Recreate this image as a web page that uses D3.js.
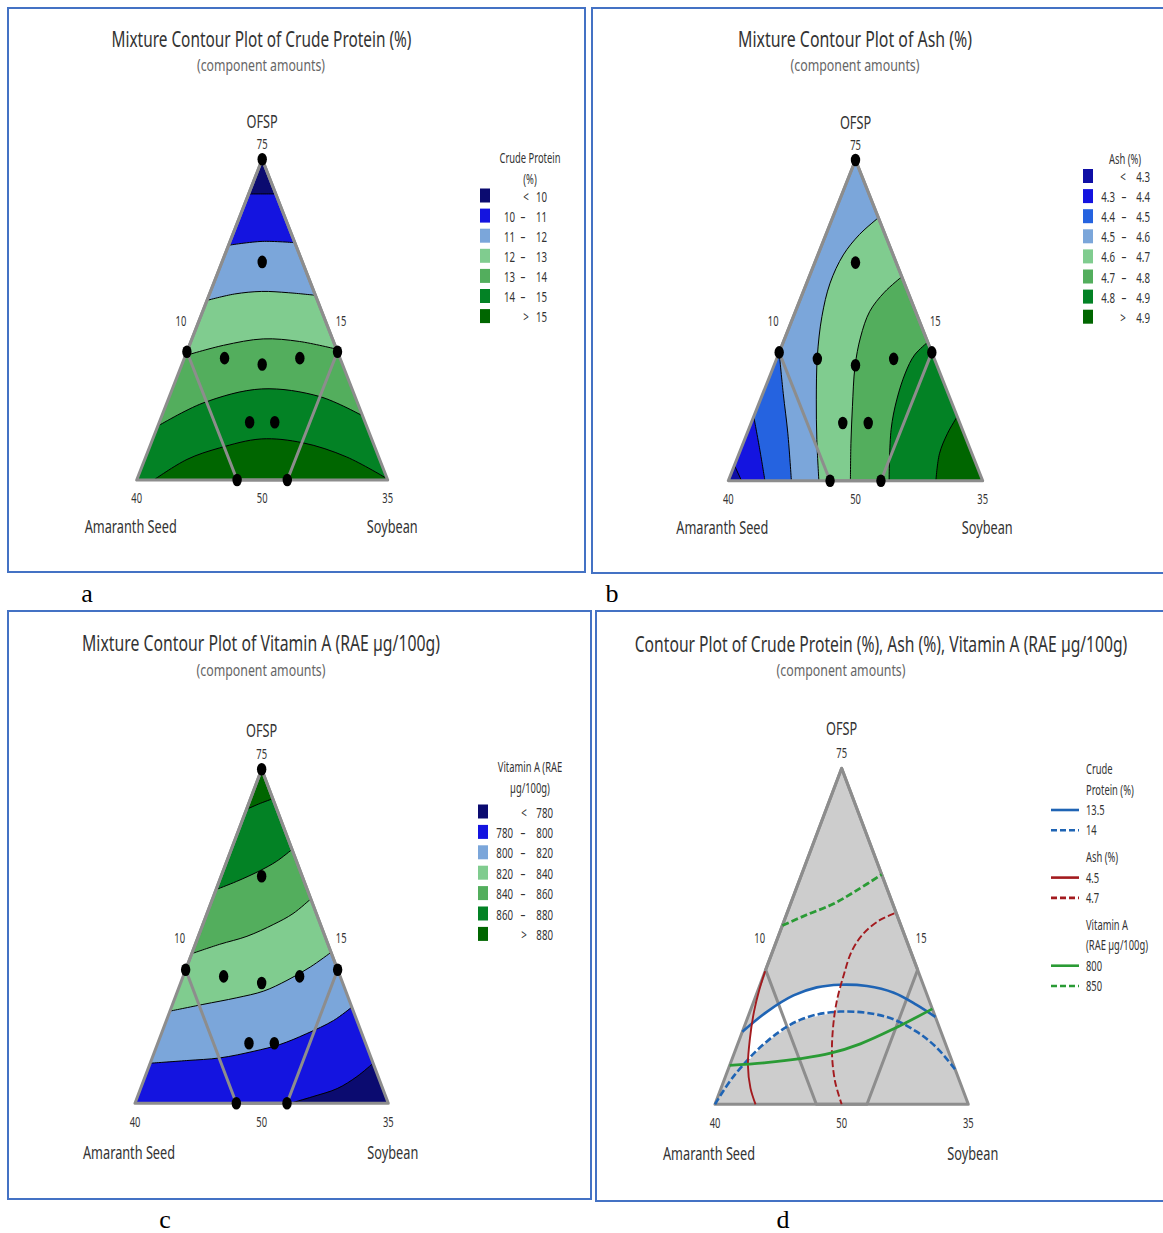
<!DOCTYPE html>
<html>
<head>
<meta charset="utf-8">
<script src="https://cdn.jsdelivr.net/npm/d3@7"></script>
<style>
  body { margin: 0; background: #fff; }
  svg { display: block; }
</style>
</head>
<body>
<svg id="fig" width="1163" height="1233"></svg>
<script>
// ---------------- data (component amounts: [OFSP, Amaranth Seed, Soybean]) ----------------
const components = ["OFSP", "Amaranth Seed", "Soybean"];
const lowerAmounts = [50, 15, 10];
const upperAmounts = [75, 40, 35];

// constrained design region and the design runs
const regionVertices = [[75, 15, 10], [60, 30, 10], [50, 30, 20], [50, 25, 25], [60, 15, 25]];
const designPoints = [
  [75, 15, 10], [60, 30, 10], [50, 30, 20], [50, 25, 25], [60, 15, 25],
  [59, 23, 18],
  [67, 19, 14], [59.5, 26.5, 14], [54.5, 26.5, 19], [54.5, 24, 21.5], [59.5, 19, 21.5]
];

// Crude Protein (%) contour lines
const proteinLevels = [10, 11, 12, 13, 14, 15];
const proteinContours = [
  [[72.3, 17.7, 10], [72.3, 16.35, 11.35], [72.3, 15, 12.7]],
  [[68.3, 21.7, 10], [68.6, 18.2, 13.2], [68.5, 15, 16.5]],
  [[64.0, 26.0, 10], [64.5, 23.0, 12.5], [64.7, 20.2, 15.1], [64.6, 17.6, 17.8], [64.4, 15, 20.6]],
  [[59.7, 30.3, 10], [60.5, 26.1, 13.4], [61.0, 21.9, 17.1], [60.8, 18.4, 20.8], [60.2, 15, 24.8]],
  [[54.2, 35.8, 10], [56.0, 30.4, 13.6], [57.1, 24.0, 18.9], [56.5, 18.5, 25.0], [55.0, 15, 30.0]],
  [[50, 38.3, 11.7], [51.6, 34.2, 14.2], [52.5, 30.5, 17.0], [53.2, 26.0, 20.8], [52.9, 22.0, 25.1], [51.8, 18.2, 30.0], [50.1, 15, 34.9]]
];

// Ash (%) contour lines
const ashLevels = [4.3, 4.4, 4.5, 4.6, 4.7, 4.8, 4.9];
const ashContours = [
  [[50, 38.7, 11.3], [51.2, 38.8, 10]],
  [[50, 36.4, 13.6], [52.4, 35.7, 11.9], [55.0, 35.0, 10]],
  [[50, 33.8, 16.2], [53.7, 32.3, 14.0], [56.8, 31.2, 12.0], [60.0, 30.0, 10]],
  [[70.5, 15, 14.5], [69.2, 17.5, 13.3], [67.6, 19.9, 12.5], [65.4, 22.3, 12.3], [62.8, 24.4, 12.8], [59.7, 26.4, 13.9], [56.3, 28.2, 15.5], [53.2, 29.7, 17.1], [50, 31.1, 18.9]],
  [[65.9, 15, 19.1], [64.7, 17.3, 18.0], [63.2, 19.5, 17.3], [61.2, 21.4, 17.4], [58.9, 23.1, 18.0], [55.8, 24.9, 19.3], [52.9, 26.5, 20.6], [50, 28.0, 22.0]],
  [[60.8, 15, 24.2], [59.8, 16.8, 23.4], [58.4, 18.4, 23.2], [56.3, 20.3, 23.4], [54.0, 22.0, 24.0], [50, 24.2, 25.8]],
  [[55.0, 15, 30.0], [53.7, 16.6, 29.7], [52.1, 18.2, 29.7], [50, 19.6, 30.4]]
];

// Vitamin A (RAE µg/100g) contour lines
const vitaminLevels = [780, 800, 820, 840, 860, 880];
const vitaminContours = [
  [[50, 24.7, 25.3], [50.5, 22.2, 27.3], [51.1, 19.5, 29.4], [52.0, 17.1, 30.9], [53.0, 15, 32.0]],
  [[53.0, 37.0, 10], [53.2, 33.3, 13.5], [53.4, 29.9, 16.7], [53.9, 26.3, 19.8], [54.4, 23.5, 22.1], [55.2, 20.5, 24.3], [56.2, 17.3, 26.5], [57.2, 15, 27.8]],
  [[56.9, 33.1, 10], [57.4, 29.6, 13.0], [57.9, 26.0, 16.1], [58.4, 23.1, 18.5], [59.2, 20.4, 20.4], [60.2, 17.6, 22.2], [61.3, 15, 23.7]],
  [[61.2, 28.8, 10], [61.9, 25.7, 12.4], [62.5, 22.7, 14.8], [63.4, 19.6, 17.0], [64.2, 17.3, 18.5], [65.3, 15, 19.7]],
  [[66.0, 24.0, 10], [66.6, 21.7, 11.7], [67.4, 19.0, 13.6], [68.1, 17.0, 14.9], [69.0, 15, 16.0]],
  [[72.0, 18.0, 10], [72.4, 16.6, 11.0], [72.8, 15, 12.2]]
];

// overlaid contour plot: lower / upper bound lines of each response
const overlayProteinLevels = [13.5, 14];
const overlayProteinContours = [
  [[55.4, 34.6, 10], [56.9, 31.4, 11.7], [58.1, 28.2, 13.7], [58.7, 25.6, 15.7], [58.9, 23.2, 17.9], [58.8, 20.6, 20.6], [58.3, 18.2, 23.5], [57.4, 16.4, 26.2], [56.5, 15, 28.5]],
  [[50, 40, 10], [52.1, 37.1, 10.8], [54.7, 32.5, 12.8], [56.3, 28.4, 15.3], [56.9, 24.2, 18.9], [56.5, 19.8, 23.7], [55.4, 17.4, 27.2], [54.2, 16.0, 29.8], [52.6, 15, 32.4]]
];
const overlayAshLevels = [4.5, 4.7];
const overlayAshContours = [
  [[59.9, 30.1, 10], [58.6, 31.3, 10.1], [56.9, 32.7, 10.4], [54.9, 34.1, 11.0], [52.9, 35.3, 11.8], [51.2, 35.9, 12.9], [50, 36.0, 14.0]],
  [[64.2, 15.2, 20.6], [63.7, 16.9, 19.4], [62.7, 19.0, 18.3], [61.4, 20.8, 17.8], [59.6, 22.5, 17.9], [57.6, 24.2, 18.2], [55.7, 25.5, 18.8], [53.7, 26.6, 19.7], [51.7, 27.3, 21.0], [50, 27.5, 22.5]]
];
const overlayVitaminLevels = [800, 850];
const overlayVitaminContours = [
  [[52.9, 37.1, 10], [53.1, 33.4, 13.5], [53.4, 29.9, 16.7], [53.8, 26.7, 19.5], [54.5, 23.4, 22.1], [55.6, 19.6, 24.8], [57.1, 15, 27.9]],
  [[63.3, 26.7, 10], [64.1, 23.9, 12.0], [64.9, 20.9, 14.2], [65.9, 18.1, 16.0], [67.1, 15, 17.9]]
];

const panelTitles = [
  "Mixture Contour Plot of Crude Protein (%)",
  "Mixture Contour Plot of Ash (%)",
  "Mixture Contour Plot of Vitamin A (RAE µg/100g)",
  "Contour Plot of Crude Protein (%), Ash (%), Vitamin A (RAE µg/100g)"
];
const subtitle = "(component amounts)";
const panelLetters = ["a", "b", "c", "d"];

// ---------------- styles ----------------
const FONT = "'Noto Sans', 'Open Sans', sans-serif";
const SQUEEZE = 0.67;
const TEXT = "#333";
const EDGE = "#8d8d8d";
const palette7 = ["#0b0b70", "#1414e0", "#7ba6da", "#80cc8f", "#53ae5d", "#038225", "#006600"];
const palette8 = ["#0f0fa6", "#1414e0", "#2563e0", "#7ba6da", "#80cc8f", "#53ae5d", "#038225", "#006600"];

const svg = d3.select("#fig");
const defs = svg.append("defs");
const curveGen = d3.line().curve(d3.curveCatmullRom.alpha(0.5));

// text helper: condensed glyphs, or scaled to a given width
function label(g, str, x, y, o = {}) {
  const anchor = o.anchor || "middle";
  const t = g.append("text").text(str)
    .attr("font-family", o.family || FONT)
    .attr("font-size", o.size || 12)
    .attr("fill", o.fill || TEXT)
    .attr("text-anchor", anchor);
  let sx = o.sx === undefined ? SQUEEZE : o.sx;
  if (o.width) {
    const natural = t.node().getComputedTextLength();
    if (natural > 0) sx = o.width / natural;
  }
  t.attr("transform", `translate(${x},${y}) scale(${sx},1)`);
  return t;
}

// ternary placement of a blend given in component amounts
function makeTernary(tri) {
  const yScale = d3.scaleLinear().domain([0, 1]).range([tri.base, tri.apexY]);
  const xScale = d3.scaleLinear().domain([0, 1]).range([tri.left, tri.right]);
  return p => {
    const f = p.map((v, i) => (v - lowerAmounts[i]) / (upperAmounts[i] - lowerAmounts[i]));
    const sum = f[0] + f[1] + f[2];
    const o = f[0] / sum, s = f[2] / sum;
    return [xScale(s + o / 2), yScale(o)];
  };
}
const vertexAmounts = {
  O: [upperAmounts[0], lowerAmounts[1], lowerAmounts[2]],
  A: [lowerAmounts[0], upperAmounts[1], lowerAmounts[2]],
  S: [lowerAmounts[0], lowerAmounts[1], upperAmounts[2]]
};

let clipCount = 0;
function polyPath(pts) { return "M" + pts.map(p => p.join(",")).join("L") + "Z"; }

function panelFrame(cfg, idx) {
  const g = svg.append("g");
  const [fx, fy, fw, fh] = cfg.frame;
  g.append("rect").attr("x", fx).attr("y", fy).attr("width", fw).attr("height", fh)
    .attr("fill", "#fff").attr("stroke", "#4472c4").attr("stroke-width", 2);
  label(g, panelTitles[idx], cfg.title[0], cfg.title[1], { size: 21.5, width: cfg.title[2], fill: "#333" });
  label(g, subtitle, cfg.sub[0], cfg.sub[1], { size: 17, width: cfg.sub[2], fill: "#666" });

  const pos = makeTernary(cfg.tri);
  const vtx = { O: pos(vertexAmounts.O), A: pos(vertexAmounts.A), S: pos(vertexAmounts.S) };
  const k = (cfg.tri.base - cfg.tri.apexY) / 321;

  // vertex and edge annotations
  const tick = { size: 14 };
  label(g, components[0], vtx.O[0], cfg.tri.apexY - 31.5 * k, { size: 19 });
  label(g, String(upperAmounts[0]), vtx.O[0], cfg.tri.apexY - 10 * k, tick);
  label(g, String(upperAmounts[1]), vtx.A[0], cfg.tri.base + 23 * k, tick);
  label(g, String(upperAmounts[2]), vtx.S[0], cfg.tri.base + 23 * k, tick);
  label(g, String(lowerAmounts[0]), (vtx.A[0] + vtx.S[0]) / 2, cfg.tri.base + 23 * k, tick);
  const leftPt = pos(regionVertices[1]), rightPt = pos(regionVertices[4]);
  label(g, String(lowerAmounts[2]), leftPt[0] - 6, leftPt[1] - 26 * k, tick);
  label(g, String(lowerAmounts[1]), rightPt[0] + 3.5, rightPt[1] - 26 * k, tick);
  label(g, components[1], vtx.A[0] - 6, cfg.tri.base + 53.5 * k, { size: 19 });
  label(g, components[2], vtx.S[0] + 4.5, cfg.tri.base + 53.5 * k, { size: 19 });

  // panel letter below the frame
  label(svg, panelLetters[idx], cfg.letter[0], cfg.letter[1],
    { size: 26, sx: 1, family: "'Liberation Serif', 'DejaVu Serif', serif", fill: "#000" });

  const clipId = "tri" + (clipCount++);
  defs.append("clipPath").attr("id", clipId).append("path").attr("d", polyPath([vtx.O, vtx.A, vtx.S]));
  return { g, pos, vtx, clipId };
}

function outline(p) {
  const { g, pos, vtx } = p;
  g.append("path").attr("d", polyPath([vtx.O, vtx.A, vtx.S]))
    .attr("fill", "none").attr("stroke", EDGE).attr("stroke-width", 3).attr("stroke-linejoin", "round");
  g.append("path").attr("d", polyPath(regionVertices.map(pos)))
    .attr("fill", "none").attr("stroke", EDGE).attr("stroke-width", 3).attr("stroke-linejoin", "round");
}

function contourPanel(cfg, idx, levels, contours, closures, colors, legendTitle) {
  const p = panelFrame(cfg, idx);
  const { g, pos, vtx, clipId } = p;
  const fills = g.append("g").attr("clip-path", `url(#${clipId})`);
  fills.append("path").attr("d", polyPath([vtx.O, vtx.A, vtx.S])).attr("fill", colors[0]);
  contours.forEach((c, i) => {
    const d = curveGen(c.map(pos)) + closures[i].map(key => `L${vtx[key][0]},${vtx[key][1]}`).join("") + "Z";
    fills.append("path").attr("d", d).attr("fill", colors[i + 1]);
  });
  contours.forEach(c => {
    fills.append("path").attr("d", curveGen(c.map(pos)))
      .attr("fill", "none").attr("stroke", "#000").attr("stroke-width", 1);
  });
  outline(p);
  g.selectAll("ellipse.run").data(designPoints).join("ellipse")
    .attr("class", "run")
    .attr("cx", d => pos(d)[0]).attr("cy", d => pos(d)[1])
    .attr("rx", 4.7).attr("ry", 6.3).attr("fill", "#000");

  // legend
  const L = cfg.legend;
  const fs = 14.5;
  legendTitle.forEach((t, i) => label(g, t, L.titleX, L.titleY + i * 20.5, { size: 14 }));
  const n = levels.length + 1;
  for (let i = 0; i < n; i++) {
    const y = L.top + i * L.step;
    g.append("rect").attr("x", L.x).attr("y", y).attr("width", 10).attr("height", 14).attr("fill", colors[i]);
    const by = y + 13;
    if (i === 0 || i === n - 1) {
      label(g, i === 0 ? "<" : ">", L.x + L.sym, by, { size: fs });
      label(g, String(levels[i === 0 ? 0 : levels.length - 1]), L.x + L.hi, by, { size: fs, anchor: "end" });
    } else {
      label(g, String(levels[i - 1]), L.x + L.lo, by, { size: fs, anchor: "end" });
      label(g, "–", L.x + L.dash, by, { size: fs });
      label(g, String(levels[i]), L.x + L.hi, by, { size: fs, anchor: "end" });
    }
  }
}

// ---------------- panels ----------------
const layoutA = {
  frame: [8, 8, 577, 564], title: [261.5, 47, 300], sub: [261, 71, 128], letter: [87, 602],
  tri: { left: 136.7, right: 387.7, base: 480, apexY: 159.3 },
  legend: { titleX: 530, titleY: 163, x: 480, top: 188.5, step: 20.1, sym: 46, lo: 35, dash: 43, hi: 67 }
};
const layoutB = {
  frame: [592, 8, 600, 565], title: [855, 47, 234], sub: [855, 71, 129], letter: [612, 602],
  tri: { left: 728.3, right: 982.7, base: 480.7, apexY: 160 },
  legend: { titleX: 1125, titleY: 164, x: 1083, top: 169, step: 20.1, sym: 40, lo: 32, dash: 41, hi: 67 }
};
const layoutC = {
  frame: [8, 611, 583, 588], title: [261, 651, 358], sub: [261, 676, 129], letter: [165, 1228],
  tri: { left: 135, right: 388.3, base: 1103.3, apexY: 769.3 },
  legend: { titleX: 530, titleY: 772, x: 478, top: 804.5, step: 20.4, sym: 46, lo: 35, dash: 45, hi: 75 }
};
const layoutD = {
  frame: [596, 611, 600, 590], title: [881, 652, 493], sub: [841, 676, 129], letter: [783, 1228],
  tri: { left: 715, right: 968.3, base: 1104.3, apexY: 768.3 }
};

const edgeToEdgeBelow = ["S", "A"];
contourPanel(layoutA, 0, proteinLevels, proteinContours,
  [edgeToEdgeBelow, edgeToEdgeBelow, edgeToEdgeBelow, edgeToEdgeBelow, edgeToEdgeBelow, ["S"]],
  palette7, ["Crude Protein", "(%)"]);
contourPanel(layoutB, 1, ashLevels, ashContours,
  [["O", "S"], ["O", "S"], ["O", "S"], ["S"], ["S"], ["S"], ["S"]],
  palette8, ["Ash (%)"]);
contourPanel(layoutC, 2, vitaminLevels, vitaminContours,
  [["O", "A"], ["O"], ["O"], ["O"], ["O"], ["O"]],
  palette7, ["Vitamin A (RAE", "µg/100g)"]);

// overlaid contour plot
(function () {
  const p = panelFrame(layoutD, 3);
  const { g, pos, vtx, clipId } = p;
  g.append("path").attr("d", polyPath([vtx.O, vtx.A, vtx.S])).attr("fill", "#cdcdcd");

  const band = (lo, hi, pre) => {
    const a = (pre || []).map(key => vtx[key]).concat(lo.map(pos), hi.slice().reverse().map(pos));
    return polyPath(a);
  };
  const idA = "ashBand", idV = "vitBand";
  defs.append("clipPath").attr("id", idA).append("path")
    .attr("d", band(overlayAshContours[1], overlayAshContours[0], ["O"]));
  defs.append("clipPath").attr("id", idV).append("path")
    .attr("d", band(overlayVitaminContours[0], overlayVitaminContours[1]));
  g.append("g").attr("clip-path", `url(#${clipId})`)
    .append("g").attr("clip-path", `url(#${idA})`)
    .append("g").attr("clip-path", `url(#${idV})`)
    .append("path").attr("d", band(overlayProteinContours[0], overlayProteinContours[1]))
    .attr("fill", "#fff");

  outline(p);

  const groups = [
    { title: ["Crude", "Protein (%)"], levels: overlayProteinLevels, contours: overlayProteinContours, color: "#1f64b4", width: 2.6 },
    { title: ["Ash (%)"], levels: overlayAshLevels, contours: overlayAshContours, color: "#a31a1e", width: 1.9 },
    { title: ["Vitamin A", "(RAE µg/100g)"], levels: overlayVitaminLevels, contours: overlayVitaminContours, color: "#2a9b35", width: 2.8 }
  ];
  const dashes = [null, "7,3"];
  groups.forEach(gr => gr.contours.forEach((c, i) => {
    g.append("path").attr("d", curveGen(c.map(pos)))
      .attr("fill", "none").attr("stroke", gr.color).attr("stroke-width", gr.width)
      .attr("stroke-dasharray", dashes[i]);
  }));

  // legend
  let y = 774;
  groups.forEach((gr, gi) => {
    if (gi > 0) y += 6.5;
    gr.title.forEach(t => { label(g, t, 1086, y, { size: 14, anchor: "start" }); y += 20.5; });
    gr.levels.forEach((lv, i) => {
      g.append("line").attr("x1", 1051).attr("x2", 1079).attr("y1", y - 5).attr("y2", y - 5)
        .attr("stroke", gr.color).attr("stroke-width", 2.6)
        .attr("stroke-dasharray", i ? "6,3" : null);
      label(g, String(lv), 1086, y, { size: 14, anchor: "start" });
      y += 20.3;
    });
  });
})();
</script>
</body>
</html>
